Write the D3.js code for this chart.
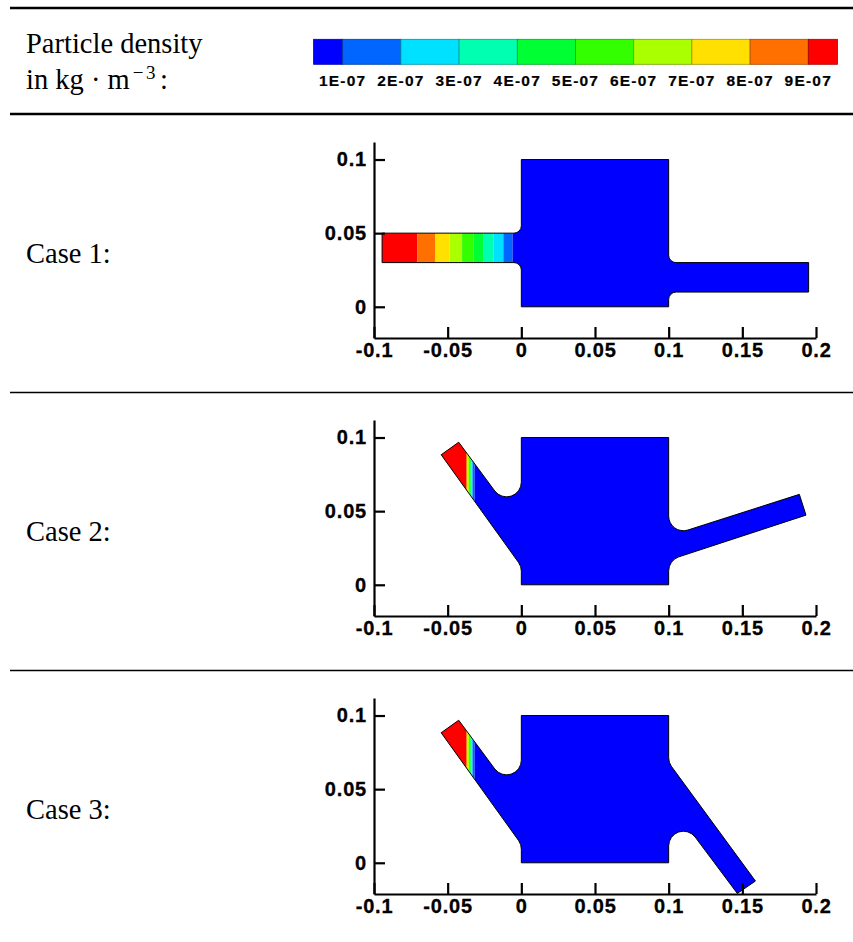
<!DOCTYPE html>
<html>
<head>
<meta charset="utf-8">
<script src="https://cdn.jsdelivr.net/npm/d3@7"></script>
<style>
    html, body { margin: 0; padding: 0; background: #fff; }
    svg { display: block; }
    .serif { font-family: "Liberation Serif", serif; font-size: 28.5px; fill: #000; }
    .tick text { font-family: "Liberation Sans", sans-serif; font-weight: bold; font-size: 20px; letter-spacing: 0.8px; fill: #000; stroke: #000; stroke-width: 0.3px; }
    .tick line, .domain { stroke: #000; stroke-width: 2.2px; }
    .legend-label { font-family: "Liberation Sans", sans-serif; font-weight: bold; font-size: 15.5px; letter-spacing: 1.2px; fill: #000; stroke: #000; stroke-width: 0.2px; }
</style>
</head>
<body>
<div id="chart"></div>
<script>
// contour levels, shared by legend and the three plots
const levelValues = [1e-7, 2e-7, 3e-7, 4e-7, 5e-7, 6e-7, 7e-7, 8e-7, 9e-7];
const levelLabels = ['1E-07', '2E-07', '3E-07', '4E-07', '5E-07', '6E-07', '7E-07', '8E-07', '9E-07'];
const levelColors = ['#0000ff', '#0066ff', '#00e0ff', '#00ffb0', '#00ff33', '#33ff00', '#aaff00', '#ffe000', '#ff7000', '#ff0000'];

const xTicks = [-0.1, -0.05, 0, 0.05, 0.1, 0.15, 0.2];
const yTicks = [0, 0.05, 0.1];

const caseNames = ['Case 1:', 'Case 2:', 'Case 3:'];

// outlines in metres: x, y, fillet radius
const case1Shape = [
    [-0.0945, 0.05, 0], [0, 0.05, 0.005], [0, 0.1, 0], [0.1, 0.1, 0], [0.1, 0.03, 0.005],
    [0.195, 0.03, 0], [0.195, 0.01, 0], [0.1, 0.01, 0.005], [0.1, 0, 0], [0, 0, 0],
    [0, 0.03, 0.005], [-0.0945, 0.03, 0]
];
const case2Shape = [
    [-0.0544, 0.0883, 0], [-0.0425, 0.0968, 0], [0, 0.0394, 0.01], [0, 0.1, 0], [0.1, 0.1, 0],
    [0.1, 0.033, 0.01], [0.1887, 0.0614, 0], [0.1932, 0.0473, 0], [0.1, 0.0167, 0.01],
    [0.1, 0, 0], [0, 0, 0], [0, 0.0125, 0.01]
];
const case3Shape = [
    [-0.0544, 0.0883, 0], [-0.0425, 0.0968, 0], [0, 0.0394, 0.01], [0, 0.1, 0], [0.1, 0.1, 0],
    [0.1, 0.068, 0.01], [0.1589, -0.0124, 0], [0.1466, -0.0208, 0], [0.1, 0.0415, 0.01],
    [0.1, 0, 0], [0, 0, 0], [0, 0.0125, 0.01]
];

// x position where the density drops one level, going downstream
const case1Edges = [-0.0705, -0.0583, -0.0488, -0.0402, -0.0325, -0.0256, -0.0188, -0.0122, -0.0059];
const case2Edges = [-0.0375, -0.0369, -0.0362, -0.0355, -0.0349, -0.0343, -0.0337, -0.0331, -0.0317];
const case3Edges = [-0.0375, -0.0369, -0.0362, -0.0355, -0.0349, -0.0343, -0.0337, -0.0331, -0.0317];

const shapes = [case1Shape, case2Shape, case3Shape];
const edges = [case1Edges, case2Edges, case3Edges];

const width = 853, height = 942;

const svg = d3.select('#chart').append('svg')
    .attr('width', width)
    .attr('height', height);

// horizontal rules
[[8, 2.5], [114, 2.5], [392.5, 1.5], [670.5, 1.5]].forEach(([y, w]) => {
    svg.append('line')
        .attr('x1', 10).attr('x2', width)
        .attr('y1', y).attr('y2', y)
        .attr('stroke', '#000')
        .attr('stroke-width', w);
});

// header text
svg.append('text').attr('class', 'serif').attr('x', 26).attr('y', 53).text('Particle density');
const unit = svg.append('text').attr('class', 'serif').attr('x', 26).attr('y', 89);
unit.append('tspan').text('in kg · m');
unit.append('tspan').attr('dx', 3).attr('dy', -10).attr('font-size', 19).attr('letter-spacing', 2.5).text('−3');
unit.append('tspan').attr('dx', 2).attr('dy', 10).text(':');

// legend: each level sits on the boundary between two colours
const legendX = d3.scaleLinear().domain([1e-7, 9e-7]).range([342.7, 808.3]);
const legendEdges = [0.5e-7, ...levelValues, 9.5e-7];
const legend = svg.append('g');
legend.selectAll('rect')
    .data(levelColors)
    .enter().append('rect')
    .attr('x', (d, i) => legendX(legendEdges[i]))
    .attr('width', (d, i) => legendX(legendEdges[i + 1]) - legendX(legendEdges[i]))
    .attr('y', 39.3)
    .attr('height', 25)
    .attr('fill', d => d)
    .attr('stroke', d => d3.color(d).darker(1.2))
    .attr('stroke-width', 0.8);
legend.selectAll('text')
    .data(levelLabels)
    .enter().append('text')
    .attr('class', 'legend-label')
    .attr('text-anchor', 'middle')
    .attr('x', (d, i) => legendX(levelValues[i]))
    .attr('y', 86)
    .text(d => d);

// same scales for every plot, each panel is just shifted down
const x = d3.scaleLinear().domain([-0.1, 0.2]).range([374, 816]);
const y = d3.scaleLinear().domain([-0.0212, 0.1119]).range([338, 142]);
const panelShift = 278;

function shapePath(points) {
    const path = d3.path();
    const px = points.map(p => [x(p[0]), y(p[1]), x(p[2]) - x(0)]);
    path.moveTo(px[0][0], px[0][1]);
    for (let i = 1; i < px.length; i++) {
        const next = px[(i + 1) % px.length];
        path.arcTo(px[i][0], px[i][1], next[0], next[1], px[i][2]);
    }
    path.closePath();
    return path.toString();
}

caseNames.forEach((name, i) => {
    const g = svg.append('g').attr('transform', `translate(0,${i * panelShift})`);
    const d = shapePath(shapes[i]);

    svg.append('clipPath').attr('id', `shape${i}`).append('path').attr('d', d);

    // contour bands, highest density on the inlet side
    const bandEdges = [x.domain()[0], ...edges[i], x.domain()[1]];
    const bands = g.append('g').attr('clip-path', `url(#shape${i})`);
    bands.selectAll('rect')
        .data(levelColors.slice().reverse())
        .enter().append('rect')
        .attr('x', (c, j) => x(bandEdges[j]))
        .attr('width', (c, j) => x(bandEdges[j + 1]) - x(bandEdges[j]))
        .attr('y', y.range()[1])
        .attr('height', y.range()[0] - y.range()[1])
        .attr('fill', c => c);

    g.append('path')
        .attr('d', d)
        .attr('fill', 'none')
        .attr('stroke', '#000')
        .attr('stroke-width', 1);

    g.append('g')
        .attr('transform', `translate(0,${y.range()[0]})`)
        .call(d3.axisBottom(x).tickValues(xTicks).tickSize(-11).tickSizeOuter(0).tickFormat(v => String(v)))
        .call(a => a.selectAll('text').attr('dy', '0.71em').attr('y', 5));

    g.append('g')
        .attr('transform', `translate(${x.range()[0]},0)`)
        .call(d3.axisLeft(y).tickValues(yTicks).tickSize(-11).tickSizeOuter(0).tickFormat(v => String(v)))
        .call(a => a.selectAll('text').attr('x', -7));

    g.append('text')
        .attr('class', 'serif')
        .attr('x', 26)
        .attr('y', 263)
        .text(name);
});
</script>
</body>
</html>
